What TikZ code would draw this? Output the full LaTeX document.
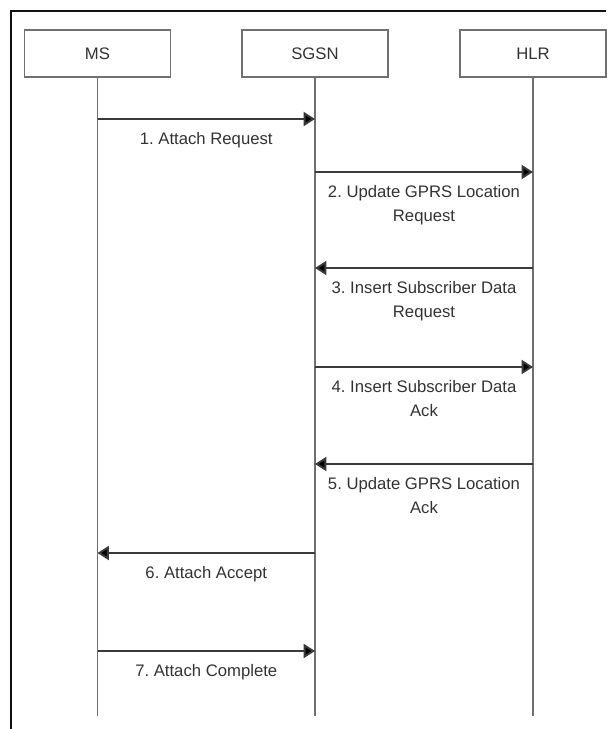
\documentclass[tikz,border=0pt]{standalone}
\usepackage{fontspec}
\setmainfont{Liberation Sans}
\usetikzlibrary{arrows.meta}
\frenchspacing

\definecolor{framecol}{HTML}{111111}
\definecolor{lifegray}{HTML}{707070}
\definecolor{msggray}{HTML}{3A3A3A}
\definecolor{labelgray}{HTML}{333333}

\begin{document}
\begin{tikzpicture}[x=0.02cm, y=-0.02cm,
    entity/.style={draw=lifegray, line width=0.8pt, minimum width=2.92cm,
        minimum height=0.94cm, inner sep=0pt, text=labelgray,
        font=\fontsize{9.5}{12}\selectfont},
    lifeline/.style={draw=lifegray, line width=0.8pt},
    msg/.style={draw=msggray, line width=1.1pt,
        -{Triangle[length=6.5pt, width=8pt, fill=black]}},
    msglabel/.style={below=4.8pt, inner sep=2pt, align=center, text=labelgray,
        font=\fontsize{9.5}{14}\selectfont}]

    % Page frame (top and left edges only)
    \useasboundingbox (0,0) rectangle (606,729);
    \draw[framecol, line width=0.6pt] (606,11) -- (11,11) -- (11,729);

    % Entities
    \node[entity] (ms)   at (97.5,53.5) {MS};
    \node[entity] (sgsn) at (315,53.5)  {SGSN};
    \node[entity] (hlr)  at (533,53.5)  {HLR};

    % Lifelines
    \coordinate (msend)   at (97.5,716);
    \coordinate (sgsnend) at (315,716);
    \coordinate (hlrend)  at (533,716);
    \draw[lifeline] (ms.south) -- (msend);
    \draw[lifeline] (sgsn.south) -- (sgsnend);
    \draw[lifeline] (hlr.south) -- (hlrend);

    % Message anchor points on each lifeline
    \foreach \n/\y in {1/119, 2/172, 3/268, 4/367, 5/464, 6/553, 7/651} {
        \coordinate (ms\n)   at (97.5,\y);
        \coordinate (sgsn\n) at (315,\y);
        \coordinate (hlr\n)  at (533,\y);
    }

    % Messages
    \draw[msg] (ms1) -- node[msglabel] {1. Attach Request} (sgsn1);
    \draw[msg] (sgsn2) -- node[msglabel] {2. Update GPRS Location\\Request} (hlr2);
    \draw[msg] (hlr3) -- node[msglabel] {3. Insert Subscriber Data\\Request} (sgsn3);
    \draw[msg] (sgsn4) -- node[msglabel] {4. Insert Subscriber Data\\Ack} (hlr4);
    \draw[msg] (hlr5) -- node[msglabel] {5. Update GPRS Location\\Ack} (sgsn5);
    \draw[msg] (sgsn6) -- node[msglabel] {6. Attach Accept} (ms6);
    \draw[msg] (ms7) -- node[msglabel] {7. Attach Complete} (sgsn7);

\end{tikzpicture}
\end{document}
